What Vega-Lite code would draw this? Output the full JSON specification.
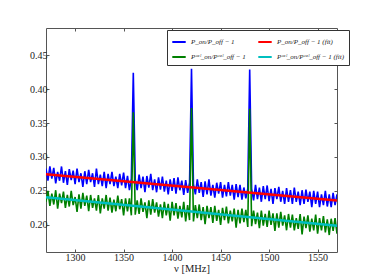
{
  "$schema": "https://vega.github.io/schema/vega-lite/v6.json",
  "autosize": "none",
  "width": 291,
  "height": 224,
  "padding": {"left": 46, "top": 28, "right": 37, "bottom": 28},
  "background": "white",
  "config": {
    "view": {"stroke": "#555", "strokeWidth": 1},
    "axis": {
      "domain": false,
      "grid": false,
      "tickColor": "#555",
      "tickSize": -3,
      "labelFont": "Liberation Serif",
      "labelFontSize": 10,
      "labelColor": "#222",
      "titleFont": "Liberation Serif",
      "titleFontSize": 10.5,
      "titleFontWeight": "normal",
      "titleColor": "#222"
    }
  },
  "datasets": {
    "blue": [
      {"nu":1270,"v":0.283},{"nu":1272,"v":0.265},{"nu":1274,"v":0.286},{"nu":1276,"v":0.268},{"nu":1278,"v":0.284},{"nu":1280,"v":0.261},{"nu":1282,"v":0.278},{"nu":1284,"v":0.265},{"nu":1286,"v":0.286},{"nu":1288,"v":0.262},
      {"nu":1290,"v":0.279},{"nu":1292,"v":0.259},{"nu":1294,"v":0.282},{"nu":1296,"v":0.266},{"nu":1298,"v":0.280},{"nu":1300,"v":0.260},{"nu":1302,"v":0.283},{"nu":1304,"v":0.263},{"nu":1306,"v":0.276},{"nu":1308,"v":0.256},
      {"nu":1310,"v":0.279},{"nu":1312,"v":0.260},{"nu":1314,"v":0.281},{"nu":1316,"v":0.263},{"nu":1318,"v":0.276},{"nu":1320,"v":0.256},{"nu":1322,"v":0.283},{"nu":1324,"v":0.260},{"nu":1326,"v":0.274},{"nu":1328,"v":0.257},
      {"nu":1330,"v":0.278},{"nu":1332,"v":0.254},{"nu":1334,"v":0.275},{"nu":1336,"v":0.260},{"nu":1338,"v":0.278},{"nu":1340,"v":0.257},{"nu":1342,"v":0.271},{"nu":1344,"v":0.254},{"nu":1346,"v":0.275},{"nu":1348,"v":0.258},
      {"nu":1350,"v":0.277},{"nu":1352,"v":0.254},{"nu":1354,"v":0.272},{"nu":1356,"v":0.251},{"nu":1358,"v":0.268},{"nu":1360,"v":0.424},{"nu":1362,"v":0.267},{"nu":1364,"v":0.251},{"nu":1366,"v":0.274},{"nu":1368,"v":0.254},
      {"nu":1370,"v":0.271},{"nu":1372,"v":0.248},{"nu":1374,"v":0.272},{"nu":1376,"v":0.255},{"nu":1378,"v":0.275},{"nu":1380,"v":0.251},{"nu":1382,"v":0.267},{"nu":1384,"v":0.248},{"nu":1386,"v":0.270},{"nu":1388,"v":0.252},
      {"nu":1390,"v":0.271},{"nu":1392,"v":0.249},{"nu":1394,"v":0.265},{"nu":1396,"v":0.245},{"nu":1398,"v":0.267},{"nu":1400,"v":0.250},{"nu":1402,"v":0.269},{"nu":1404,"v":0.246},{"nu":1406,"v":0.270},{"nu":1408,"v":0.251},
      {"nu":1410,"v":0.265},{"nu":1412,"v":0.244},{"nu":1414,"v":0.266},{"nu":1416,"v":0.247},{"nu":1418,"v":0.262},{"nu":1420,"v":0.430},{"nu":1422,"v":0.260},{"nu":1424,"v":0.245},{"nu":1426,"v":0.267},{"nu":1428,"v":0.247},
      {"nu":1430,"v":0.263},{"nu":1432,"v":0.241},{"nu":1434,"v":0.264},{"nu":1436,"v":0.245},{"nu":1438,"v":0.267},{"nu":1440,"v":0.243},{"nu":1442,"v":0.259},{"nu":1444,"v":0.240},{"nu":1446,"v":0.262},{"nu":1448,"v":0.246},
      {"nu":1450,"v":0.263},{"nu":1452,"v":0.240},{"nu":1454,"v":0.259},{"nu":1456,"v":0.242},{"nu":1458,"v":0.263},{"nu":1460,"v":0.243},{"nu":1462,"v":0.259},{"nu":1464,"v":0.237},{"nu":1466,"v":0.260},{"nu":1468,"v":0.241},
      {"nu":1470,"v":0.259},{"nu":1472,"v":0.237},{"nu":1474,"v":0.255},{"nu":1476,"v":0.239},{"nu":1478,"v":0.253},{"nu":1480,"v":0.429},{"nu":1482,"v":0.253},{"nu":1484,"v":0.236},{"nu":1486,"v":0.259},{"nu":1488,"v":0.238},
      {"nu":1490,"v":0.255},{"nu":1492,"v":0.234},{"nu":1494,"v":0.257},{"nu":1496,"v":0.238},{"nu":1498,"v":0.258},{"nu":1500,"v":0.235},{"nu":1502,"v":0.253},{"nu":1504,"v":0.231},{"nu":1506,"v":0.254},{"nu":1508,"v":0.238},
      {"nu":1510,"v":0.256},{"nu":1512,"v":0.234},{"nu":1514,"v":0.250},{"nu":1516,"v":0.231},{"nu":1518,"v":0.254},{"nu":1520,"v":0.234},{"nu":1522,"v":0.251},{"nu":1524,"v":0.231},{"nu":1526,"v":0.255},{"nu":1528,"v":0.234},
      {"nu":1530,"v":0.249},{"nu":1532,"v":0.229},{"nu":1534,"v":0.251},{"nu":1536,"v":0.231},{"nu":1538,"v":0.252},{"nu":1540,"v":0.234},{"nu":1542,"v":0.249},{"nu":1544,"v":0.226},{"nu":1546,"v":0.250},{"nu":1548,"v":0.231},
      {"nu":1550,"v":0.249},{"nu":1552,"v":0.226},{"nu":1554,"v":0.245},{"nu":1556,"v":0.229},{"nu":1558,"v":0.250},{"nu":1560,"v":0.227},{"nu":1562,"v":0.245},{"nu":1564,"v":0.226},{"nu":1566,"v":0.247},{"nu":1568,"v":0.229},
      {"nu":1570,"v":0.245}
    ],
    "green": [
      {"nu":1270,"v":0.234},{"nu":1272,"v":0.250},{"nu":1274,"v":0.228},{"nu":1276,"v":0.246},{"nu":1278,"v":0.230},{"nu":1280,"v":0.251},{"nu":1282,"v":0.224},{"nu":1284,"v":0.246},{"nu":1286,"v":0.232},{"nu":1288,"v":0.249},
      {"nu":1290,"v":0.225},{"nu":1292,"v":0.244},{"nu":1294,"v":0.227},{"nu":1296,"v":0.250},{"nu":1298,"v":0.229},{"nu":1300,"v":0.241},{"nu":1302,"v":0.219},{"nu":1304,"v":0.245},{"nu":1306,"v":0.224},{"nu":1308,"v":0.247},
      {"nu":1310,"v":0.228},{"nu":1312,"v":0.243},{"nu":1314,"v":0.220},{"nu":1316,"v":0.244},{"nu":1318,"v":0.225},{"nu":1320,"v":0.239},{"nu":1322,"v":0.221},{"nu":1324,"v":0.244},{"nu":1326,"v":0.217},{"nu":1328,"v":0.239},
      {"nu":1330,"v":0.224},{"nu":1332,"v":0.244},{"nu":1334,"v":0.221},{"nu":1336,"v":0.240},{"nu":1338,"v":0.218},{"nu":1340,"v":0.237},{"nu":1342,"v":0.220},{"nu":1344,"v":0.243},{"nu":1346,"v":0.223},{"nu":1348,"v":0.238},
      {"nu":1350,"v":0.214},{"nu":1352,"v":0.239},{"nu":1354,"v":0.220},{"nu":1356,"v":0.239},{"nu":1358,"v":0.214},{"nu":1360,"v":0.366},{"nu":1362,"v":0.215},{"nu":1364,"v":0.236},{"nu":1366,"v":0.216},{"nu":1368,"v":0.239},
      {"nu":1370,"v":0.219},{"nu":1372,"v":0.233},{"nu":1374,"v":0.210},{"nu":1376,"v":0.236},{"nu":1378,"v":0.215},{"nu":1380,"v":0.238},{"nu":1382,"v":0.218},{"nu":1384,"v":0.233},{"nu":1386,"v":0.212},{"nu":1388,"v":0.230},
      {"nu":1390,"v":0.210},{"nu":1392,"v":0.234},{"nu":1394,"v":0.214},{"nu":1396,"v":0.231},{"nu":1398,"v":0.206},{"nu":1400,"v":0.234},{"nu":1402,"v":0.214},{"nu":1404,"v":0.232},{"nu":1406,"v":0.209},{"nu":1408,"v":0.228},
      {"nu":1410,"v":0.211},{"nu":1412,"v":0.234},{"nu":1414,"v":0.205},{"nu":1416,"v":0.229},{"nu":1418,"v":0.207},{"nu":1420,"v":0.372},{"nu":1422,"v":0.205},{"nu":1424,"v":0.229},{"nu":1426,"v":0.210},{"nu":1428,"v":0.230},
      {"nu":1430,"v":0.207},{"nu":1432,"v":0.226},{"nu":1434,"v":0.201},{"nu":1436,"v":0.228},{"nu":1438,"v":0.210},{"nu":1440,"v":0.226},{"nu":1442,"v":0.203},{"nu":1444,"v":0.228},{"nu":1446,"v":0.206},{"nu":1448,"v":0.222},
      {"nu":1450,"v":0.200},{"nu":1452,"v":0.225},{"nu":1454,"v":0.207},{"nu":1456,"v":0.227},{"nu":1458,"v":0.202},{"nu":1460,"v":0.221},{"nu":1462,"v":0.205},{"nu":1464,"v":0.224},{"nu":1466,"v":0.196},{"nu":1468,"v":0.222},
      {"nu":1470,"v":0.202},{"nu":1472,"v":0.224},{"nu":1474,"v":0.204},{"nu":1476,"v":0.222},{"nu":1478,"v":0.197},{"nu":1480,"v":0.371},{"nu":1482,"v":0.198},{"nu":1484,"v":0.221},{"nu":1486,"v":0.201},{"nu":1488,"v":0.218},
      {"nu":1490,"v":0.195},{"nu":1492,"v":0.221},{"nu":1494,"v":0.199},{"nu":1496,"v":0.216},{"nu":1498,"v":0.197},{"nu":1500,"v":0.221},{"nu":1502,"v":0.200},{"nu":1504,"v":0.217},{"nu":1506,"v":0.191},{"nu":1508,"v":0.217},
      {"nu":1510,"v":0.196},{"nu":1512,"v":0.219},{"nu":1514,"v":0.199},{"nu":1516,"v":0.214},{"nu":1518,"v":0.192},{"nu":1520,"v":0.216},{"nu":1522,"v":0.196},{"nu":1524,"v":0.215},{"nu":1526,"v":0.192},{"nu":1528,"v":0.210},
      {"nu":1530,"v":0.194},{"nu":1532,"v":0.216},{"nu":1534,"v":0.186},{"nu":1536,"v":0.212},{"nu":1538,"v":0.195},{"nu":1540,"v":0.214},{"nu":1542,"v":0.190},{"nu":1544,"v":0.209},{"nu":1546,"v":0.192},{"nu":1548,"v":0.215},
      {"nu":1550,"v":0.187},{"nu":1552,"v":0.210},{"nu":1554,"v":0.192},{"nu":1556,"v":0.213},{"nu":1558,"v":0.189},{"nu":1560,"v":0.208},{"nu":1562,"v":0.185},{"nu":1564,"v":0.209},{"nu":1566,"v":0.191},{"nu":1568,"v":0.210},
      {"nu":1570,"v":0.187}
    ],
    "fitb": [{"nu":1270,"v":0.2745},{"nu":1570,"v":0.236}],
    "fitg": [{"nu":1270,"v":0.2405},{"nu":1570,"v":0.1985}]
  },
  "resolve": {"axis": {"x": "independent", "y": "independent"}},
  "layer": [
    {
      "data": {"name": "blue"},
      "mark": {"type": "line", "strokeWidth": 1.6, "clip": true},
      "encoding": {
        "x": {"field": "nu", "type": "quantitative",
              "scale": {"domain": [1270, 1570], "nice": false, "zero": false},
              "axis": {"orient": "bottom", "values": [1300, 1350, 1400, 1450, 1500, 1550], "format": "d", "title": "ν [MHz]", "labelPadding": 3, "titlePadding": 1, "labelFlush": false}},
        "y": {"field": "v", "type": "quantitative",
              "scale": {"domain": [0.16, 0.49], "nice": false, "zero": false},
              "axis": {"orient": "left", "values": [0.2, 0.25, 0.3, 0.35, 0.4, 0.45], "format": ".2f", "title": null, "labelPadding": 2, "labelFlush": false}},
        "color": {"datum": "P_on/P_off − 1", "type": "nominal",
          "scale": {"domain": ["P_on/P_off − 1", "Pᶜᵃˡ_on/Pᶜᵃˡ_off − 1", "P_on/P_off − 1 (fit)", "Pᶜᵃˡ_on/Pᶜᵃˡ_off − 1 (fit)"],
                    "range": ["#0000ff", "#008000", "#ff0000", "#00bfbf"]},
          "legend": {"title": null, "orient": "none", "legendX": 121, "legendY": 2, "columns": 2,
                     "symbolType": "stroke", "symbolSize": 180, "symbolStrokeWidth": 2,
                     "labelFont": "Liberation Serif", "labelFontSize": 7, "labelFontStyle": "italic", "labelColor": "#222",
                     "strokeColor": "#333", "fillColor": "white", "padding": 4, "columnPadding": 8, "rowPadding": 3, "labelLimit": 200}}
      }
    },
    {
      "data": {"name": "green"},
      "mark": {"type": "line", "strokeWidth": 1.6, "clip": true},
      "encoding": {
        "x": {"field": "nu", "type": "quantitative", "axis": {"orient": "top", "labels": false, "title": null, "values": [1300, 1350, 1400, 1450, 1500, 1550]}},
        "y": {"field": "v", "type": "quantitative", "axis": {"orient": "right", "labels": false, "title": null, "values": [0.2, 0.25, 0.3, 0.35, 0.4, 0.45]}},
        "color": {"datum": "Pᶜᵃˡ_on/Pᶜᵃˡ_off − 1", "type": "nominal"}
      }
    },
    {
      "data": {"name": "fitb"},
      "mark": {"type": "line", "strokeWidth": 2.5},
      "encoding": {
        "x": {"field": "nu", "type": "quantitative", "axis": null},
        "y": {"field": "v", "type": "quantitative", "axis": null},
        "color": {"datum": "P_on/P_off − 1 (fit)", "type": "nominal"}
      }
    },
    {
      "data": {"name": "fitg"},
      "mark": {"type": "line", "strokeWidth": 2.5},
      "encoding": {
        "x": {"field": "nu", "type": "quantitative", "axis": null},
        "y": {"field": "v", "type": "quantitative", "axis": null},
        "color": {"datum": "Pᶜᵃˡ_on/Pᶜᵃˡ_off − 1 (fit)", "type": "nominal"}
      }
    }
  ]
}
